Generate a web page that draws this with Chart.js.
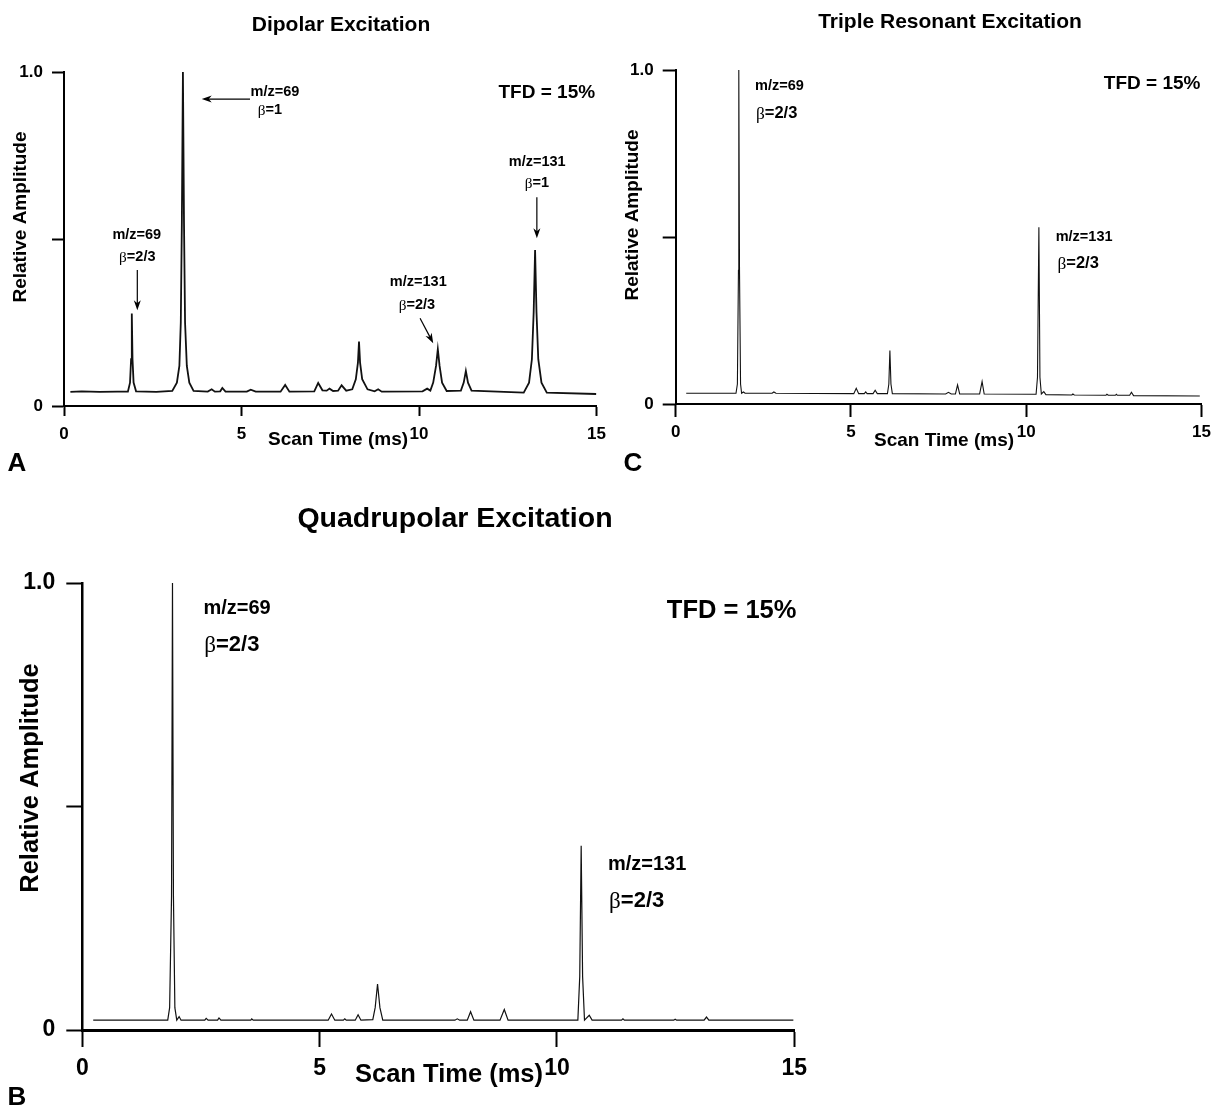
<!DOCTYPE html>
<html>
<head>
<meta charset="utf-8">
<title>Excitation scans</title>
<script src="https://cdn.jsdelivr.net/npm/chart.js@4.4.1/dist/chart.umd.min.js"></script>
<style>
  html, body { margin: 0; padding: 0; background: #fff; }
  #page { position: relative; width: 1216px; height: 1112px; overflow: hidden; background: #fff; }
  #page canvas { position: absolute; left: 0; top: 0; }
</style>
</head>
<body>
<div id="page">
  <canvas id="dipolar" width="1216" height="1112"></canvas>
  <canvas id="triple" width="1216" height="1112"></canvas>
  <canvas id="quad" width="1216" height="1112"></canvas>
</div>
<script>
// scan time (ms) / relative amplitude pairs, read peak by peak
var dipolarTime = [0.18, 0.5, 1.0, 1.5, 1.80, 1.86, 1.89, 1.91, 1.93, 1.96, 2.03, 2.6,
  3.05, 3.18, 3.25, 3.29, 3.32, 3.35, 3.38, 3.41, 3.46, 3.53, 3.65,
  4.05, 4.16, 4.25, 4.40, 4.46, 4.55, 5.15, 5.26, 5.4, 6.1, 6.23, 6.35,
  7.05, 7.16, 7.28, 7.40, 7.48, 7.58, 7.72, 7.82, 7.95,
  8.12, 8.22, 8.28, 8.31, 8.34, 8.40, 8.55, 8.75, 8.85, 8.95,
  10.1, 10.23, 10.32, 10.40, 10.48, 10.53, 10.58, 10.65, 10.78,
  11.18, 11.26, 11.32, 11.38, 11.48,
  12.95, 13.1, 13.18, 13.23, 13.27, 13.31, 13.36, 13.45, 13.6, 14.99];
var dipolarAmp = [0.042, 0.044, 0.042, 0.043, 0.043, 0.07, 0.14, 0.277, 0.14, 0.07, 0.044, 0.042,
  0.045, 0.07, 0.12, 0.25, 0.55, 1.0, 0.55, 0.25, 0.12, 0.07, 0.045,
  0.043, 0.05, 0.043, 0.044, 0.054, 0.043, 0.043, 0.049, 0.043, 0.043, 0.063, 0.043,
  0.044, 0.069, 0.047, 0.046, 0.052, 0.045, 0.046, 0.062, 0.046,
  0.05, 0.08, 0.13, 0.193, 0.13, 0.08, 0.05, 0.044, 0.05, 0.043,
  0.044, 0.052, 0.046, 0.07, 0.12, 0.17, 0.12, 0.07, 0.045,
  0.046, 0.07, 0.105, 0.07, 0.046,
  0.04, 0.07, 0.14, 0.28, 0.467, 0.28, 0.14, 0.07, 0.04, 0.036];

var tripleTime = [0.30, 1.0, 1.72, 1.76, 1.79, 1.80, 1.82, 1.85, 1.88, 1.93, 1.98,
  2.75, 2.80, 2.86, 5.08, 5.15, 5.22, 5.38, 5.42, 5.46, 5.63, 5.69, 5.75,
  6.04, 6.08, 6.11, 6.14, 6.18, 7.70, 7.78, 7.86, 7.98, 8.04, 8.10, 8.67, 8.74, 8.80,
  10.28, 10.32, 10.36, 10.39, 10.43, 10.50, 10.56,
  11.30, 11.33, 11.37, 12.27, 12.30, 12.34, 12.54, 12.57, 12.60, 12.95, 13.0, 13.06, 14.95];
var tripleAmp = [0.032, 0.032, 0.032, 0.06, 0.4, 1.0, 0.4, 0.06, 0.032, 0.036, 0.032,
  0.032, 0.036, 0.032, 0.031, 0.047, 0.031, 0.031, 0.036, 0.031, 0.031, 0.041, 0.031,
  0.031, 0.06, 0.16, 0.06, 0.031, 0.030, 0.035, 0.030, 0.030, 0.057, 0.030, 0.030, 0.067, 0.030,
  0.029, 0.08, 0.529, 0.08, 0.030, 0.037, 0.028,
  0.027, 0.030, 0.027, 0.026, 0.029, 0.026, 0.026, 0.029, 0.026, 0.026, 0.035, 0.025, 0.024];

var quadTime = [0.23, 1.8, 1.84, 1.88, 1.90, 1.92, 1.95, 1.99, 2.04, 2.08,
  2.58, 2.61, 2.65, 2.85, 2.88, 2.92, 3.55, 3.57, 3.60,
  5.18, 5.25, 5.32, 5.50, 5.53, 5.56, 5.75, 5.81, 5.87,
  6.12, 6.17, 6.22, 6.27, 6.33, 7.85, 7.90, 7.95, 8.11, 8.18, 8.25, 8.80, 8.89, 8.97,
  10.44, 10.48, 10.51, 10.54, 10.58, 10.68, 10.74,
  11.36, 11.39, 11.42, 12.46, 12.49, 12.52, 13.10, 13.15, 13.20, 14.98];
var quadAmp = [0.022, 0.022, 0.05, 0.3, 1.0, 0.3, 0.05, 0.022, 0.03, 0.022,
  0.022, 0.026, 0.022, 0.022, 0.027, 0.022, 0.022, 0.025, 0.022,
  0.022, 0.036, 0.022, 0.022, 0.025, 0.022, 0.022, 0.034, 0.022,
  0.023, 0.05, 0.103, 0.05, 0.022, 0.022, 0.025, 0.022, 0.022, 0.041, 0.022, 0.022, 0.046, 0.022,
  0.022, 0.12, 0.412, 0.12, 0.022, 0.033, 0.022,
  0.022, 0.025, 0.022, 0.022, 0.024, 0.022, 0.022, 0.029, 0.022, 0.022];

var timeTicks = [0, 5, 10, 15];
var timeTickLabels = ['0', '5', '10', '15'];
var ampTicks = [0, 0.5, 1.0];
var ampTickLabels = ['0', '', '1.0'];

var SANS = "'Liberation Sans', Arial, sans-serif";
var SERIF = "'Liberation Serif', 'DejaVu Serif', serif";

function toPoints(xs, ys) {
  return xs.map(function(x, i) { return {x: x, y: ys[i]}; });
}

// draws "β=2/3" style labels: greek letter in a light serif face, rest bold
function drawLabel(ctx, s, x, y, size) {
  var greek = s.charAt(0) === 'β' ? 'β' : '';
  var rest = greek ? s.slice(1) : s;
  ctx.font = (size * 1.05) + 'px ' + SERIF;
  var gw = greek ? ctx.measureText(greek).width : 0;
  ctx.font = 'bold ' + size + 'px ' + SANS;
  var rw = ctx.measureText(rest).width;
  var x0 = x - (gw + rw) / 2;
  ctx.textAlign = 'left';
  ctx.textBaseline = 'middle';
  if (greek) {
    ctx.font = (size * 1.05) + 'px ' + SERIF;
    ctx.fillText(greek, x0, y + 1);
  }
  ctx.font = 'bold ' + size + 'px ' + SANS;
  ctx.fillText(rest, x0 + gw, y);
}

function drawArrow(ctx, x1, y1, x2, y2) {
  var a = Math.atan2(y2 - y1, x2 - x1), len = 10, half = 3.5;
  ctx.lineWidth = 1.2;
  ctx.beginPath();
  ctx.moveTo(x1, y1);
  ctx.lineTo(x2 - Math.cos(a) * len * 0.6, y2 - Math.sin(a) * len * 0.6);
  ctx.stroke();
  ctx.beginPath();
  ctx.moveTo(x2, y2);
  ctx.lineTo(x2 - Math.cos(a) * len - Math.sin(a) * half, y2 - Math.sin(a) * len + Math.cos(a) * half);
  ctx.lineTo(x2 - Math.cos(a) * len * 0.7, y2 - Math.sin(a) * len * 0.7);
  ctx.lineTo(x2 - Math.cos(a) * len + Math.sin(a) * half, y2 - Math.sin(a) * len - Math.cos(a) * half);
  ctx.closePath();
  ctx.fill();
}

var notesPlugin = {
  id: 'notes',
  afterDraw: function(chart, args, o) {
    var ctx = chart.ctx, xs = chart.scales.x, ys = chart.scales.y;
    ctx.save();
    ctx.fillStyle = '#000';
    ctx.strokeStyle = '#000';

    // panel heading and letter
    ctx.textAlign = 'center';
    ctx.textBaseline = 'middle';
    ctx.font = 'bold ' + o.titleSize + 'px ' + SANS;
    ctx.fillText(o.title, o.titlePos[0], o.titlePos[1]);
    ctx.font = 'bold ' + o.letterSize + 'px ' + SANS;
    ctx.fillText(o.letter, o.letterPos[0], o.letterPos[1]);

    // axis titles
    ctx.font = 'bold ' + o.axisSize + 'px ' + SANS;
    ctx.fillText('Scan Time (ms)', o.xTitlePos[0], o.xTitlePos[1]);
    ctx.save();
    ctx.translate(o.yTitlePos[0], o.yTitlePos[1]);
    ctx.rotate(-Math.PI / 2);
    ctx.fillText('Relative Amplitude', 0, 0);
    ctx.restore();

    // peak labels, placed in data units
    o.labels.forEach(function(l) {
      drawLabel(ctx, l.text, xs.getPixelForValue(l.x), ys.getPixelForValue(l.y), l.size);
    });
    o.arrows.forEach(function(a) {
      drawArrow(ctx, xs.getPixelForValue(a[0]), ys.getPixelForValue(a[1]),
        xs.getPixelForValue(a[2]), ys.getPixelForValue(a[3]));
    });
    ctx.restore();
  }
};

function makeChart(id, time, amp, p) {
  var W = 1216, H = 1112;
  var yW = p.area.left - 4, xH = H - p.area.bottom - 2;
  return new Chart(document.getElementById(id), {
    type: 'line',
    data: {
      datasets: [{
        data: toPoints(time, amp),
        borderColor: '#111',
        borderWidth: p.lineWidth,
        pointRadius: 0,
        tension: 0,
        fill: false,
        clip: 6
      }]
    },
    options: {
      responsive: false,
      animation: false,
      events: [],
      layout: {
        padding: {left: 4, right: W - p.area.right, top: p.area.top, bottom: 2}
      },
      plugins: {
        legend: {display: false},
        tooltip: {enabled: false},
        notes: p.notes
      },
      scales: {
        x: {
          type: 'linear',
          min: 0,
          max: 15,
          afterFit: function(s) { s.height = xH; },
          afterBuildTicks: function(s) { s.ticks = timeTicks.map(function(v) { return {value: v}; }); },
          border: {color: '#000', width: p.xAxisWidth},
          grid: {drawOnChartArea: false, tickLength: p.xTick, tickWidth: 2, tickColor: '#000', color: '#000'},
          ticks: {
            autoSkip: false,
            maxRotation: 0,
            padding: p.xPad,
            color: '#000',
            font: {family: SANS, size: p.tickSize, weight: 'bold'},
            callback: function(v, i) { return timeTickLabels[i]; }
          }
        },
        y: {
          min: 0,
          max: 1,
          afterFit: function(s) { s.width = yW; },
          afterBuildTicks: function(s) { s.ticks = ampTicks.map(function(v) { return {value: v}; }); },
          border: {color: '#000', width: p.yAxisWidth},
          grid: {drawOnChartArea: false, tickLength: p.yTick, tickWidth: 2, tickColor: '#000', color: '#000'},
          ticks: {
            autoSkip: false,
            padding: p.yPad,
            color: '#000',
            font: {family: SANS, size: p.tickSize, weight: 'bold'},
            callback: function(v, i) { return ampTickLabels[i]; }
          }
        }
      }
    },
    plugins: [notesPlugin]
  });
}

makeChart('dipolar', dipolarTime, dipolarAmp, {
  area: {left: 64, right: 596.5, top: 72, bottom: 406},
  lineWidth: 1.8, xAxisWidth: 2, yAxisWidth: 2, xTick: 10, yTick: 12, xPad: 8, yPad: 9, tickSize: 17,
  notes: {
    title: 'Dipolar Excitation', titleSize: 21, titlePos: [341, 25],
    letter: 'A', letterSize: 26, letterPos: [17, 464],
    axisSize: 19, xTitlePos: [338, 440], yTitlePos: [21, 217],
    labels: [
      {text: 'TFD = 15%', x: 13.6, y: 0.938, size: 19},
      {text: 'm/z=69', x: 5.94, y: 0.941, size: 14.5},
      {text: 'β=1', x: 5.80, y: 0.886, size: 14.5},
      {text: 'm/z=69', x: 2.05, y: 0.512, size: 14.5},
      {text: 'β=2/3', x: 2.065, y: 0.447, size: 14.5},
      {text: 'm/z=131', x: 9.98, y: 0.372, size: 14.5},
      {text: 'β=2/3', x: 9.94, y: 0.302, size: 14.5},
      {text: 'm/z=131', x: 13.33, y: 0.731, size: 14.5},
      {text: 'β=1', x: 13.32, y: 0.667, size: 14.5}
    ],
    arrows: [
      [5.24, 0.919, 3.88, 0.919],
      [2.065, 0.407, 2.065, 0.287],
      [10.03, 0.263, 10.40, 0.188],
      [13.32, 0.625, 13.32, 0.502]
    ]
  }
});

makeChart('triple', tripleTime, tripleAmp, {
  area: {left: 675.7, right: 1208, top: 70, bottom: 404},
  lineWidth: 1.1, xAxisWidth: 2, yAxisWidth: 2, xTick: 13, yTick: 13, xPad: 5, yPad: 9, tickSize: 17,
  notes: {
    title: 'Triple Resonant Excitation', titleSize: 21, titlePos: [950, 22],
    letter: 'C', letterSize: 26, letterPos: [633, 464],
    axisSize: 19, xTitlePos: [944, 441], yTitlePos: [633, 215],
    labels: [
      {text: 'TFD = 15%', x: 13.59, y: 0.958, size: 19},
      {text: 'm/z=69', x: 2.96, y: 0.952, size: 14.5},
      {text: 'β=2/3', x: 2.88, y: 0.870, size: 16.5},
      {text: 'm/z=131', x: 11.65, y: 0.501, size: 14.5},
      {text: 'β=2/3', x: 11.48, y: 0.421, size: 16.5}
    ],
    arrows: []
  }
});

makeChart('quad', quadTime, quadAmp, {
  area: {left: 82.3, right: 794.3, top: 583, bottom: 1030},
  lineWidth: 1.2, xAxisWidth: 3, yAxisWidth: 2.5, xTick: 17, yTick: 16, xPad: 8, yPad: 11, tickSize: 23,
  notes: {
    title: 'Quadrupolar Excitation', titleSize: 28.5, titlePos: [455, 519],
    letter: 'B', letterSize: 26, letterPos: [17, 1098],
    axisSize: 25.5, xTitlePos: [449, 1075], yTitlePos: [31, 778],
    labels: [
      {text: 'TFD = 15%', x: 13.68, y: 0.937, size: 25.5},
      {text: 'm/z=69', x: 3.26, y: 0.942, size: 20},
      {text: 'β=2/3', x: 3.15, y: 0.861, size: 22},
      {text: 'm/z=131', x: 11.9, y: 0.370, size: 20},
      {text: 'β=2/3', x: 11.68, y: 0.289, size: 22}
    ],
    arrows: []
  }
});
</script>
</body>
</html>
